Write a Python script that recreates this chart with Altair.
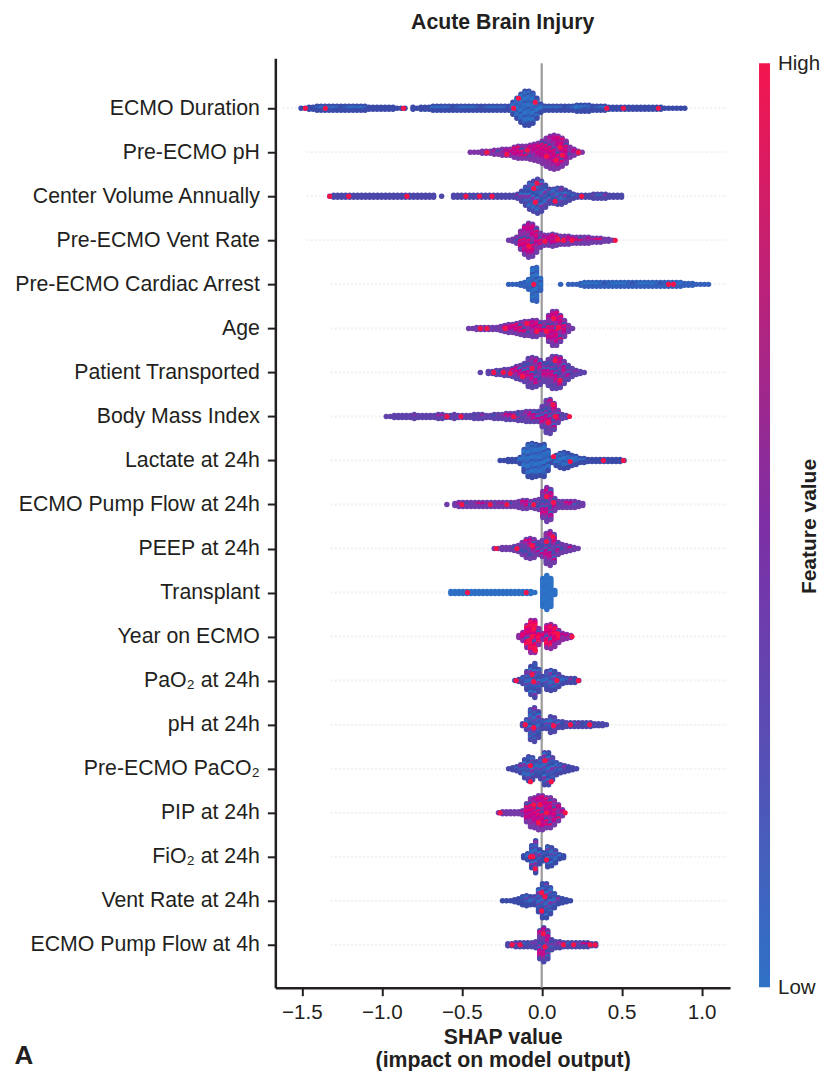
import json
import altair as alt
import pandas as pd

alt.data_transformers.disable_max_rows()

FONT = "Liberation Sans"
INK = "#231f20"
TITLE = "Acute Brain Injury"
XTITLE = ["SHAP value", "(impact on model output)"]
LABELS = ["ECMO Duration", "Pre-ECMO pH", "Center Volume Annually", "Pre-ECMO Vent Rate",
          "Pre-ECMO Cardiac Arrest", "Age", "Patient Transported", "Body Mass Index",
          "Lactate at 24h", "ECMO Pump Flow at 24h", "PEEP at 24h", "Transplant",
          "Year on ECMO", "PaO\u2082 at 24h", "pH at 24h", "Pre-ECMO PaCO\u2082",
          "PIP at 24h", "FiO\u2082 at 24h", "Vent Rate at 24h", "ECMO Pump Flow at 4h"]

BIN = 0.025          # SHAP width of one swarm column
STARTS = [-1.505, -0.447, -1.326, -0.207, -0.207, -0.457, -0.384, -0.972, -0.260, -0.593,
          -0.297, -0.568, -0.143, -0.168, -0.120, -0.207, -0.270, -0.113, -0.245, -0.212]
# half-height of every swarm column in px (-1 = empty column)
HALF = [
 [0,0,1,1,2,2,2,2,2,2,2,2,2,2,2,2,2,1,1,1,1,1,1,1,0,0,0,-1,1,0,1,1,1,2,2,2,2,2,2,2,2,2,2,2,2,2,2,2,2,2,2,2,
  2,6,10,14,17,17,15,10,4,2,2,2,2,2,2,2,2,3,3,3,3,2,2,2,2,1,1,1,1,1,1,1,1,1,1,1,1,1,1,0,0,0,0,0,0],
 [0,0,0,1,1,1,2,2,3,3,3,5,6,6,6,7,8,9,11,14,16,17,16,14,11,5,3,1,0],
 [0,1,1,1,1,1,1,1,1,1,1,1,1,1,1,1,1,1,1,1,1,1,1,1,1,1,1,-1,0,-1,-1,1,1,1,1,1,1,1,1,1,1,1,1,1,1,1,1,
  2,5,9,13,15,17,15,11,7,7,8,8,6,4,2,1,1,1,1,2,2,2,2,1,1,1,1],
 [0,1,3,9,14,17,16,12,7,5,5,6,5,4,4,4,3,3,3,3,3,2,2,2,1,1,0],
 [0,0,0,1,2,5,16,17,6,-1,-1,-1,-1,0,-1,0,0,0,1,2,2,2,2,2,2,2,2,2,2,2,2,2,2,2,2,2,2,2,2,2,2,2,2,2,1,1,1,0,0,0,0],
 [0,0,1,1,1,1,1,1,2,3,4,4,5,6,7,7,8,8,6,6,13,17,17,13,8,3,0],
 [0,-1,1,1,2,2,3,3,4,6,7,9,14,15,14,12,9,13,16,16,15,11,7,4,2,1,0],
 [0,0,1,1,1,1,1,2,1,1,1,1,1,2,2,1,1,2,1,1,1,1,2,2,2,1,1,2,2,2,3,3,3,4,4,5,5,5,5,10,16,17,13,6,2,1],
 [0,0,1,1,1,3,11,16,17,16,15,16,10,2,5,7,8,7,5,4,2,2,1,1,1,1,1,1,1,1,1,0],
 [0,-1,1,2,2,2,2,2,2,2,2,2,2,2,2,2,2,2,3,4,4,3,4,5,13,17,15,6,3,3,3,3,3,2,1],
 [0,0,1,1,1,2,3,6,9,10,9,6,8,15,17,14,6,4,3,2,1,0],
 [1,1,1,1,1,1,1,1,1,1,1,1,1,1,1,1,1,1,1,1,1,0,-1,14,17,14,2],
 [1,4,11,16,16,8,3,11,12,10,6,3,2,1],
 [0,1,3,9,14,17,11,4,9,10,9,6,3,2,2,2,0],
 [1,5,15,17,13,4,4,8,7,3,3,2,2,2,2,2,2,2,1,1,1,0],
 [0,1,2,4,9,12,11,7,10,16,16,11,6,4,3,2,1,0],
 [0,1,1,1,1,1,2,9,14,15,17,17,15,15,12,8,3],
 [1,3,11,16,7,4,10,9,6,2,1],
 [0,0,0,1,2,4,5,4,4,11,17,17,13,7,3,2,1,0],
 [1,1,2,2,2,2,2,3,14,17,14,5,3,3,2,2,2,2,2,2,2,1,1],
]
# feature-value mixture seen in each row
BLUE = [0.02, 0.0, 0.14, 0.05, 0.22, 0.0, 0.09]
BLUEP = [0.05, 0.25, 0.1, 0.4, 0.0, 0.3, 0.15, 0.5, 0.08, 0.2, 0.35]
PURP = [0.4, 0.1, 0.55, 0.3, 0.7, 0.45, 0.2, 0.6, 0.35, 0.5, 0.8]
MAG = [0.6, 0.75, 0.5, 0.85, 0.65, 0.2, 0.7, 0.55, 0.9, 0.6, 0.45]
RED = [0.9, 0.8, 1.0, 0.7, 0.95, 0.85, 0.5, 1.0, 0.75, 0.15, 0.9]
MIX = [BLUE, MAG, BLUEP, MAG, BLUE, MAG, PURP, PURP, BLUE, PURP,
       PURP, [0.02, 0.0, 0.04, 0.01], RED, BLUEP, BLUEP, BLUEP, MAG, BLUEP, BLUEP, PURP]
EDGE = [0.25, 0.45, 0.3, 0.4, 0.12, 0.4, 0.35, 0.35, 0.25, 0.4,
        0.4, 0.03, 0.5, 0.28, 0.3, 0.28, 0.42, 0.25, 0.25, 0.3]
# bright individual points: (SHAP value, px offset from the row)
HOT = [
 [(-1.478,0),(-1.353,0),(-0.864,0),(-0.176,0),(-0.145,-10),(-0.04,-6),(0.407,0),(0.511,0),(0.73,0)],
 [(-0.343,0),(-0.218,2),(0.23,0),(0.115,-5),(0.03,4),(-0.09,-2),(0.09,8),(0.13,3)],
 [(-1.326,0),(-1.207,0),(-0.843,0),(-0.474,0),(-0.389,0),(-0.311,0),(-0.05,-8),(-0.03,-13),(0.084,5),(0.25,0),(-0.04,6)],
 [(0.136,0),(0.189,0),(0.46,0),(-0.08,6),(0.02,1),(0.1,-1)],
 [(-0.05,0),(0.793,0),(0.824,0)],
 [(-0.384,0),(-0.343,0),(-0.228,0),(-0.093,-5),(-0.03,3),(0.105,-1),(0.075,-10),(0.03,3)],
 [(-0.30,0),(-0.24,0),(-0.197,1),(-0.06,-4),(0.084,-12),(0.115,8),(-0.12,4)],
 [(-0.593,0),(-0.505,0),(-0.176,0),(0.07,-12),(0.04,6),(0.174,0),(0.085,0)],
 [(0.074,-4),(0.178,1),(0.386,0),(0.511,0)],
 [(-0.499,0),(-0.322,0),(-0.218,0),(-0.05,0),(0.074,-2),(0.03,-8)],
 [(-0.284,0),(-0.155,0),(-0.06,-3),(0.03,-7),(0.07,-12)],
 [(-0.464,0),(-0.097,0)],
 [(-0.05,-8),(-0.06,0),(-0.08,4),(-0.04,14),(0.1,-3),(0.19,0)],
 [(-0.159,0),(-0.05,1),(0.095,0),(0.23,0),(-0.06,-6)],
 [(-0.05,3),(0.074,1),(-0.103,0),(0.3,0),(0.18,0)],
 [(-0.07,-3),(0.02,-8),(-0.07,13),(0.06,13)],
 [(-0.26,0),(-0.01,-8),(0.147,0),(-0.05,-8),(-0.02,10),(0.03,0)],
 [(-0.07,0),(-0.055,0),(0.03,3),(-0.04,12)],
 [(0.0,-8),(0.02,-4),(0.0,10)],
 [(-0.186,0),(-0.134,0),(0.011,-11),(0.334,0),(0.303,0),(0.199,0),(0.136,0),(0.02,2)],
]
FAINT_START = [-1.62, -1.47, -1.47, -1.47] + [-1.32] * 16
FAINT_END = 1.16
COLORBAR_STOPS = ["#2f72c6", "#7d2fa5", "#f4164f"]
DOT_STOPS = ["#2c74c8", "#3a4aa8", "#8e2ba3", "#f4164f"]

W, H = 455, 930
ROW_PX = 44.05
XDOM = [-1.666, 1.178]
YDOM = [19.976, -1.135]
yscale = alt.Scale(domain=YDOM, nice=False, zero=False)
xscale = alt.Scale(domain=XDOM, nice=False, zero=False)
cscale = alt.Scale(domain=[0, 0.25, 0.5, 1], range=DOT_STOPS)

dots = []
for r, (start, half, mix, edge) in enumerate(zip(STARTS, HALF, MIX, EDGE)):
    for i, h in enumerate(half):
        if h < 0:
            continue
        for k in range(h + 1):
            f = edge if k in (0, h) else mix[(i * 5 + k * 3) % len(mix)]
            dots.append({"x": round(start + i * BIN, 4),
                         "y": round(r + (2 * k - h) / ROW_PX, 4), "f": f})
hot = [{"x": x, "y": round(r + o / ROW_PX, 4)} for r, row in enumerate(HOT) for x, o in row]
faint = [{"x": s, "x2": FAINT_END, "y": r} for r, s in enumerate(FAINT_START)]

label_expr = json.dumps(LABELS, ensure_ascii=False) + "[datum.value]"

faint_l = alt.Chart(pd.DataFrame(faint)).mark_rule(
    color="#dfe9e8", strokeWidth=2, strokeDash=[2, 2], opacity=0.6
).encode(x=alt.X("x:Q", scale=xscale), x2="x2:Q", y=alt.Y("y:Q", scale=yscale))

zero_l = alt.Chart(pd.DataFrame({"x": [0], "y": [-1.02], "y2": [YDOM[0]]})).mark_rule(
    color="#9b9b9b", strokeWidth=2.2
).encode(x=alt.X("x:Q", scale=xscale), y=alt.Y("y:Q", scale=yscale), y2="y2:Q")

dots_l = alt.Chart(pd.DataFrame(dots)).mark_circle(size=30, opacity=1).encode(
    x=alt.X("x:Q", scale=xscale, title=XTITLE,
            axis=alt.Axis(values=[-1.5, -1.0, -0.5, 0.0, 0.5, 1.0], format=".1f", grid=False,
                          domainWidth=2.5, domainColor=INK, tickColor=INK, tickWidth=2, tickSize=8,
                          labelFont=FONT, labelFontSize=20.6, labelColor=INK, labelPadding=7,
                          titleFont=FONT, titleFontSize=21.3, titleFontWeight="bold", titleColor=INK,
                          titlePadding=3, titleLineHeight=23)),
    y=alt.Y("y:Q", scale=yscale, title=None,
            axis=alt.Axis(values=list(range(20)), labelExpr=label_expr, grid=False,
                          domainWidth=2.5, domainColor=INK, tickColor=INK, tickWidth=2, tickSize=8,
                          labelFont=FONT, labelFontSize=21.3, labelColor=INK, labelPadding=8,
                          labelLimit=300)),
    color=alt.Color("f:Q", scale=cscale, legend=None),
)
hot_l = alt.Chart(pd.DataFrame(hot)).mark_circle(size=26, opacity=1, color="#f8124a").encode(
    x=alt.X("x:Q", scale=xscale), y=alt.Y("y:Q", scale=yscale))

panel_l = alt.Chart(pd.DataFrame({"t": ["A"]})).mark_text(
    font=FONT, fontSize=26, fontWeight="bold", color=INK, align="left", baseline="alphabetic"
).encode(text="t:N", x=alt.value(-261), y=alt.value(1006))

main = alt.layer(faint_l, zero_l, dots_l, hot_l, panel_l).properties(
    width=W, height=H,
    title=alt.TitleParams(TITLE, font=FONT, fontSize=21.3, fontWeight="bold", color=INK,
                          anchor="middle", offset=25.5),
)

BAR_DOM = [-0.0005, 1.0054]
bar = alt.Chart(pd.DataFrame({"a": [0], "b": [1]})).mark_rect(
    color=alt.LinearGradient(gradient="linear",
                             stops=[alt.GradientStop(offset=0, color=COLORBAR_STOPS[0]),
                                    alt.GradientStop(offset=0.5, color=COLORBAR_STOPS[1]),
                                    alt.GradientStop(offset=1, color=COLORBAR_STOPS[2])],
                             x1=0, x2=0, y1=1, y2=0)
).encode(
    x=alt.value(0), x2=alt.value(11),
    y=alt.Y("a:Q", scale=alt.Scale(domain=BAR_DOM, nice=False, zero=False), title="Feature value",
            axis=alt.Axis(orient="right", values=[0, 1], labelExpr="datum.value == 0 ? 'Low' : 'High'",
                          domain=False, ticks=False, grid=False, labelFont=FONT, labelFontSize=20.5,
                          labelColor=INK, labelPadding=7.5, titleFont=FONT, titleFontSize=21,
                          titleFontWeight="bold", titleColor=INK, titleAngle=270, titlePadding=-0.5,
                          titleY=468)),
    y2="b:Q",
).properties(width=11, height=H)

chart = alt.hconcat(main, bar, spacing=29).properties(
    padding={"left": 4.5, "top": 3, "right": 0, "bottom": 0}, background="white"
).configure_view(stroke=None)

chart.save("out.html", embed_options={"renderer": "svg", "actions": False})
